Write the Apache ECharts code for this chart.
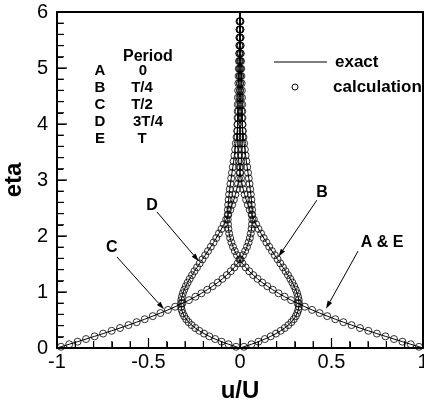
<!DOCTYPE html>
<html>
<head>
<meta charset="utf-8">
<script src="https://cdn.jsdelivr.net/npm/echarts@6/dist/echarts.min.js"></script>
<style>
  html, body { margin: 0; padding: 0; background: #fff; }
  #chart { width: 424px; height: 404px; }
</style>
</head>
<body>
<div id="chart"></div>
<script>
// eta positions of the computed points
var etaCalc = [
  0.022, 0.067, 0.113, 0.160, 0.208, 0.257, 0.307, 0.357, 0.409, 0.461,
  0.514, 0.569, 0.624, 0.680, 0.737, 0.796, 0.855, 0.916, 0.977, 1.040,
  1.104, 1.169, 1.235, 1.302, 1.370, 1.440, 1.511, 1.583, 1.657, 1.731,
  1.808, 1.885, 1.964, 2.044, 2.126, 2.209, 2.294, 2.380, 2.468, 2.557,
  2.648, 2.741, 2.835, 2.931, 3.029, 3.129, 3.230, 3.333, 3.438, 3.545,
  3.654, 3.765, 3.877, 3.992, 4.109, 4.228, 4.349, 4.472, 4.598, 4.726,
  4.856, 4.988, 5.123, 5.260, 5.400, 5.542, 5.687, 5.834
];

// u/U at t = 0 (A & E)
var uA = [
  0.9780, 0.9331, 0.8875, 0.8413, 0.7947, 0.7480, 0.7013, 0.6556, 0.6095, 0.5648,
  0.5208, 0.4769, 0.4348, 0.3939, 0.3544, 0.3156, 0.2791, 0.2437, 0.2106, 0.1789,
  0.1492, 0.1215, 0.0958, 0.0722, 0.0507, 0.0309, 0.0132, -0.0025, -0.0164, -0.0282,
  -0.0385, -0.0469, -0.0538, -0.0590, -0.0629, -0.0654, -0.0667, -0.0670, -0.0663, -0.0646,
  -0.0623, -0.0594, -0.0560, -0.0521, -0.0481, -0.0438, -0.0394, -0.0350, -0.0307, -0.0266,
  -0.0226, -0.0188, -0.0154, -0.0122, -0.0093, -0.0068, -0.0046, -0.0027, -0.0011, 0.0001,
  0.0011, 0.0019, 0.0024, 0.0027, 0.0029, 0.0029, 0.0028, 0.0026
];

// u/U at t = T/4 (B)
var uB = [
  0.0215, 0.0626, 0.1007, 0.1358, 0.1677, 0.1966, 0.2223, 0.2445, 0.2642, 0.2806,
  0.2941, 0.3050, 0.3131, 0.3186, 0.3216, 0.3224, 0.3209, 0.3174, 0.3120, 0.3048,
  0.2961, 0.2859, 0.2746, 0.2622, 0.2490, 0.2349, 0.2203, 0.2053, 0.1900, 0.1748,
  0.1594, 0.1444, 0.1296, 0.1153, 0.1013, 0.0882, 0.0756, 0.0639, 0.0529, 0.0428,
  0.0335, 0.0252, 0.0177, 0.0111, 0.0054, 0.0006, -0.0035, -0.0068, -0.0094, -0.0113,
  -0.0127, -0.0135, -0.0139, -0.0139, -0.0135, -0.0129, -0.0121, -0.0111, -0.0100, -0.0089,
  -0.0077, -0.0066, -0.0055, -0.0044, -0.0035, -0.0026, -0.0019, -0.0013
];

// u/U at t = T/2 (C)
var uC = [
  -0.9780, -0.9331, -0.8875, -0.8413, -0.7947, -0.7480, -0.7013, -0.6556, -0.6095, -0.5648,
  -0.5208, -0.4769, -0.4348, -0.3939, -0.3544, -0.3156, -0.2791, -0.2437, -0.2106, -0.1789,
  -0.1492, -0.1215, -0.0958, -0.0722, -0.0507, -0.0309, -0.0132, 0.0025, 0.0164, 0.0282,
  0.0385, 0.0469, 0.0538, 0.0590, 0.0629, 0.0654, 0.0667, 0.0670, 0.0663, 0.0646,
  0.0623, 0.0594, 0.0560, 0.0521, 0.0481, 0.0438, 0.0394, 0.0350, 0.0307, 0.0266,
  0.0226, 0.0188, 0.0154, 0.0122, 0.0093, 0.0068, 0.0046, 0.0027, 0.0011, -0.0001,
  -0.0011, -0.0019, -0.0024, -0.0027, -0.0029, -0.0029, -0.0028, -0.0026
];

// u/U at t = 3T/4 (D)
var uD = [
  -0.0215, -0.0626, -0.1007, -0.1358, -0.1677, -0.1966, -0.2223, -0.2445, -0.2642, -0.2806,
  -0.2941, -0.3050, -0.3131, -0.3186, -0.3216, -0.3224, -0.3209, -0.3174, -0.3120, -0.3048,
  -0.2961, -0.2859, -0.2746, -0.2622, -0.2490, -0.2349, -0.2203, -0.2053, -0.1900, -0.1748,
  -0.1594, -0.1444, -0.1296, -0.1153, -0.1013, -0.0882, -0.0756, -0.0639, -0.0529, -0.0428,
  -0.0335, -0.0252, -0.0177, -0.0111, -0.0054, -0.0006, 0.0035, 0.0068, 0.0094, 0.0113,
  0.0127, 0.0135, 0.0139, 0.0139, 0.0135, 0.0129, 0.0121, 0.0111, 0.0100, 0.0089,
  0.0077, 0.0066, 0.0055, 0.0044, 0.0035, 0.0026, 0.0019, 0.0013
];

// exact curve end values at the wall (eta = 0) and at eta = 6
var uWall = [1, 0, -1, 0];
var uTop = [0.0024, -0.0007, -0.0024, 0.0007];

var xTicks = [-1, -0.5, 0, 0.5, 1];
var yTicks = [0, 1, 2, 3, 4, 5, 6];

var periodLetters = ['A', 'B', 'C', 'D', 'E'];
var periodValues = ['0', 'T/4', 'T/2', '3T/4', 'T'];

var FONT = 'Liberation Sans, Arial, sans-serif';

var curves = [uA, uB, uC, uD];

// curve tags: label anchor, arrow start, arrow tip (in data units)
var tags = [
  { text: 'A & E', at: [0.776, 1.89], from: [0.645, 1.73], to: [0.47, 0.70] },
  { text: 'B', at: [0.448, 2.77], from: [0.42, 2.64], to: [0.21, 1.63] },
  { text: 'C', at: [-0.70, 1.80], from: [-0.672, 1.625], to: [-0.415, 0.69] },
  { text: 'D', at: [-0.481, 2.55], from: [-0.454, 2.43], to: [-0.225, 1.55] }
];

function pairs(u) {
  var out = [];
  for (var i = 0; i < etaCalc.length; i++) out.push([u[i], etaCalc[i]]);
  return out;
}

var series = [];
curves.forEach(function (u, k) {
  var line = [[uWall[k], 0]].concat(pairs(u), [[uTop[k], 6]]);
  series.push({
    name: 'exact',
    type: 'line',
    data: line,
    showSymbol: false,
    symbol: 'none',
    lineStyle: { color: '#000', width: 1 },
    z: 2,
    silent: true
  });
});
curves.forEach(function (u) {
  series.push({
    name: 'calculation',
    type: 'scatter',
    data: pairs(u),
    symbol: 'circle',
    symbolSize: 7,
    itemStyle: { color: 'rgba(0,0,0,0)', borderColor: '#000', borderWidth: 1 },
    z: 3,
    silent: true
  });
});

// period table and legend
var graphics = [{
  type: 'text', left: 123, top: 49,
  style: { text: 'Period', fill: '#000', font: 'bold 16px ' + FONT }
}];
var valueX = [143, 142, 142, 148, 142];
periodLetters.forEach(function (l, i) {
  var y = 71 + i * 17;
  graphics.push({
    type: 'text', x: 100, y: y,
    style: { text: l, fill: '#000', font: 'bold 15px ' + FONT, align: 'center', verticalAlign: 'middle' }
  });
  graphics.push({
    type: 'text', x: valueX[i], y: y,
    style: { text: periodValues[i], fill: '#000', font: 'bold 15px ' + FONT, align: 'center', verticalAlign: 'middle' }
  });
});
graphics.push(
  { type: 'line', shape: { x1: 274, y1: 62, x2: 327, y2: 62 }, style: { stroke: '#000', lineWidth: 1 } },
  { type: 'text', x: 335, y: 62, style: { text: 'exact', fill: '#000', font: 'bold 17px ' + FONT, verticalAlign: 'middle' } },
  { type: 'circle', shape: { cx: 295, cy: 87, r: 3 }, style: { fill: 'none', stroke: '#000', lineWidth: 1 } },
  { type: 'text', x: 333, y: 87, style: { text: 'calculation', fill: '#000', font: 'bold 17px ' + FONT, verticalAlign: 'middle' } }
);

function mainAxis(extra) {
  var a = {
    axisLine: { show: true, onZero: false, lineStyle: { color: '#000', width: 2 } },
    axisTick: { show: true, inside: true, length: 9, lineStyle: { color: '#000', width: 1 } },
    minorTick: { show: true, splitNumber: 5, length: 6, lineStyle: { color: '#000', width: 1 } },
    splitLine: { show: false }
  };
  return Object.assign(a, extra);
}
function frameAxis(extra) {
  var a = {
    axisLine: { show: true, onZero: false, lineStyle: { color: '#000', width: 2 } },
    axisTick: { show: false }, axisLabel: { show: false }, splitLine: { show: false }
  };
  return Object.assign(a, extra);
}

var chart = echarts.init(document.getElementById('chart'));
chart.setOption({
  animation: false,
  grid: { left: 57, right: 1, top: 12, bottom: 56, outerBoundsMode: 'none' },
  xAxis: [
    mainAxis({
      type: 'value', min: -1, max: 1, interval: 0.5,
      name: 'u/U', nameLocation: 'middle', nameGap: 31,
      nameTextStyle: { color: '#000', fontFamily: FONT, fontWeight: 'bold', fontSize: 24 },
      axisLabel: {
        color: '#000', fontFamily: FONT, fontSize: 20, margin: 4,
        formatter: function (v) { return xTicks.indexOf(v) >= 0 ? String(v) : ''; }
      }
    }),
    frameAxis({ type: 'value', min: -1, max: 1, position: 'top' })
  ],
  yAxis: [
    mainAxis({
      type: 'value', min: 0, max: 6, interval: 1,
      name: 'eta', nameLocation: 'middle', nameGap: 30, nameRotate: 90,
      nameTextStyle: { color: '#000', fontFamily: FONT, fontWeight: 'bold', fontSize: 24 },
      axisLabel: {
        color: '#000', fontFamily: FONT, fontSize: 20, margin: 9,
        formatter: function (v) { return yTicks.indexOf(v) >= 0 ? String(v) : ''; }
      }
    }),
    frameAxis({ type: 'value', min: 0, max: 6, position: 'right' })
  ],
  graphic: graphics,
  series: series
});

var extra = [];

// inward ticks (major + 4 minor between), placed through the axes, on their own layer
function tick(p1, p2) {
  extra.push({ type: 'line', zlevel: 5, z: 100,
    shape: { x1: p1[0], y1: p1[1], x2: p2[0], y2: p2[1] },
    style: { stroke: '#000', lineWidth: 1.2 } });
}
for (var i = 0; i <= 20; i++) {
  var xv = -1 + i * 0.1;
  var px = chart.convertToPixel({ xAxisIndex: 0, yAxisIndex: 0 }, [xv, 0]);
  var lx = (i % 5 === 0) ? 9 : 6;
  tick([px[0], px[1] - 1], [px[0], px[1] - 1 - lx]);
}
for (var j = 0; j <= 30; j++) {
  var yv = j * 0.2;
  var py = chart.convertToPixel({ xAxisIndex: 0, yAxisIndex: 0 }, [-1, yv]);
  var ly = (j % 5 === 0) ? 9 : 6;
  tick([py[0] + 1, py[1]], [py[0] + 1 + ly, py[1]]);
}

// curve tags with arrows
tags.forEach(function (t) {
  var p = chart.convertToPixel({ gridIndex: 0 }, t.at);
  var a = chart.convertToPixel({ gridIndex: 0 }, t.from);
  var b = chart.convertToPixel({ gridIndex: 0 }, t.to);
  var dx = b[0] - a[0], dy = b[1] - a[1];
  var len = Math.sqrt(dx * dx + dy * dy);
  var ux = dx / len, uy = dy / len;
  var hl = 8, hw = 2.5;
  var bx = b[0] - ux * hl, by = b[1] - uy * hl;
  extra.push(
    { type: 'text', x: p[0], y: p[1], z: 10,
      style: { text: t.text, fill: '#000', font: 'bold 16px ' + FONT, align: 'center', verticalAlign: 'middle' } },
    { type: 'line', z: 10, shape: { x1: a[0], y1: a[1], x2: bx, y2: by }, style: { stroke: '#000', lineWidth: 1 } },
    { type: 'polygon', z: 10,
      shape: { points: [[b[0], b[1]], [bx - uy * hw, by + ux * hw], [bx + uy * hw, by - ux * hw]] },
      style: { fill: '#000' } }
  );
});
chart.setOption({ graphic: graphics.concat(extra) });
</script>
</body>
</html>
